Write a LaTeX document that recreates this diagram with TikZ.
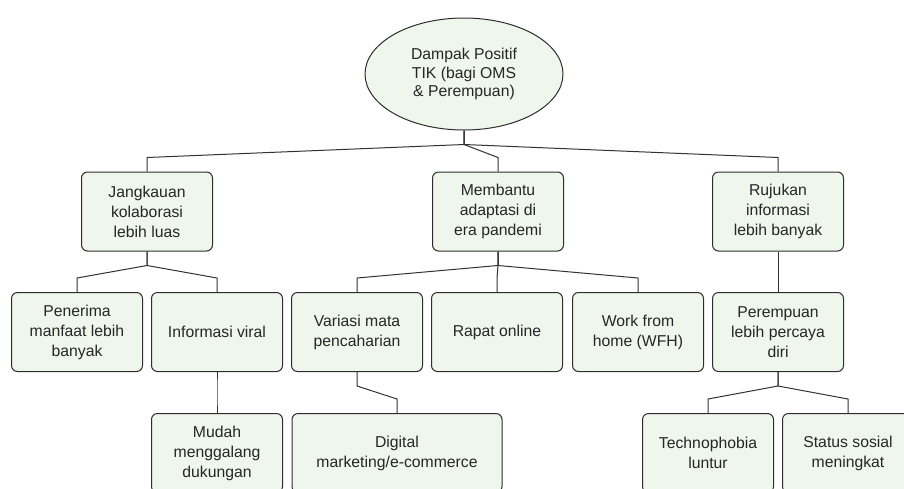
\documentclass[tikz,border=0pt]{standalone}
\usepackage{fontspec}
\setmainfont{Liberation Sans}
\usetikzlibrary{shapes.geometric}
\definecolor{boxfill}{RGB}{239,246,236}
\definecolor{boxline}{RGB}{45,45,45}
\definecolor{connline}{RGB}{50,50,50}
\begin{document}
\begin{tikzpicture}[x=1pt,y=1pt,
  every node/.style={font=\fontsize{15.75}{20}\selectfont, text=black!85},
  tbox/.style={draw=boxline, fill=boxfill, line width=1pt, rounded corners=6pt,
    minimum width=131pt, minimum height=79pt, inner sep=0pt, align=center},
  wbox/.style={tbox, minimum width=210pt},
  root/.style={ellipse, draw=boxline, fill=boxfill, line width=1pt,
    minimum width=198pt, minimum height=112pt, inner sep=0pt, align=center,
    font=\fontsize{15.75}{18.5}\selectfont},
  conn/.style={draw=connline, line width=1pt}
]
\useasboundingbox (0,0) rectangle (904,-488);
\clip (0,0) rectangle (904,-488);

\node[root] (r) at (464,-74) {Dampak Positif\\TIK (bagi OMS\\\& Perempuan)};

\node[tbox] (a) at (147,-211.5) {Jangkauan\\kolaborasi\\lebih luas};
\node[tbox] (b) at (498,-211.5) {Membantu\\adaptasi di\\era pandemi};
\node[tbox] (c) at (778,-211.5) {Rujukan\\informasi\\lebih banyak};

\node[tbox] (a1) at (77,-332) {Penerima\\manfaat lebih\\banyak};
\node[tbox] (a2) at (217,-332) {Informasi viral};
\node[tbox] (b1) at (357,-332) {Variasi mata\\pencaharian};
\node[tbox] (b2) at (497,-332) {Rapat online};
\node[tbox] (b3) at (638,-332) {Work from\\home (WFH)};
\node[tbox] (c1) at (778,-332) {Perempuan\\lebih percaya\\diri};

\node[tbox] (a21) at (217,-453) {Mudah\\menggalang\\dukungan};
\node[wbox] (b11) at (397,-453) {Digital\\marketing/e-commerce};
\node[tbox] (c11) at (708,-453) {Technophobia\\luntur};
\node[tbox] (c12) at (848,-453) {Status sosial\\meningkat};

\foreach \p/\c in {r/a, r/b, r/c, a/a1, a/a2, b/b1, b/b2, b/b3, c/c1, a2/a21, b1/b11, c1/c11, c1/c12}
  \draw[conn] (\p.south) -- ++(0,-14) -- ([yshift=14pt]\c.north) -- (\c.north);
\end{tikzpicture}
\end{document}
